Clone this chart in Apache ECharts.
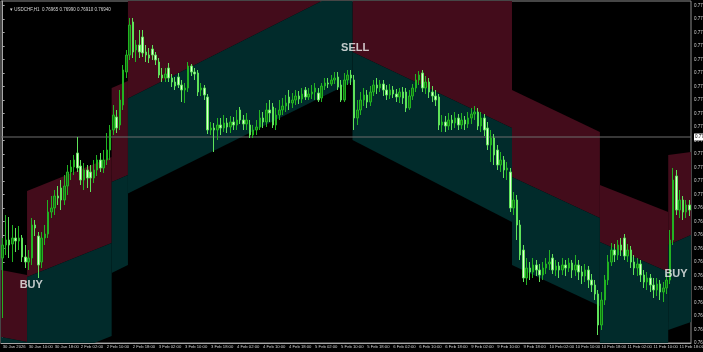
<!DOCTYPE html>
<html><head><meta charset="utf-8">
<script src="https://cdn.jsdelivr.net/npm/echarts@6/dist/echarts.min.js"></script>
<style>html,body{margin:0;padding:0;background:#000;}#c{width:703px;height:352px;}</style>
</head><body><div id="c"></div>
<script>
// ---- data ----
const symbolTitle = '\u25BE USDCHF,H1  0.76965 0.76990 0.76910 0.76940';
const sessions = [['30 Jan',2,23],['2 Feb',0,23],['3 Feb',0,23],['4 Feb',0,23],['5 Feb',0,23],['6 Feb',0,23],['9 Feb',0,23],['10 Feb',0,23],['11 Feb',0,21]];
const tickLabels = ['30 Jan 2026','30 Jan 10:00','30 Jan 18:00','2 Feb 02:00','2 Feb 10:00','2 Feb 18:00','3 Feb 02:00','3 Feb 10:00','3 Feb 18:00','4 Feb 02:00','4 Feb 10:00','4 Feb 18:00','5 Feb 02:00','5 Feb 10:00','5 Feb 18:00','6 Feb 02:00','6 Feb 10:00','6 Feb 18:00','9 Feb 02:00','9 Feb 10:00','9 Feb 18:00','10 Feb 02:00','10 Feb 10:00','10 Feb 18:00','11 Feb 02:00','11 Feb 10:00','11 Feb 18:00'];
// [open, close, low, high]
const ohlc = [
[0.76700,0.76765,0.76400,0.76800],[0.76765,0.76790,0.76715,0.76915],[0.76790,0.76765,0.76700,0.76905],[0.76770,0.76800,0.76680,0.76865],
[0.76800,0.76785,0.76730,0.76850],[0.76785,0.76800,0.76740,0.76860],[0.76800,0.76705,0.76680,0.76815],[0.76705,0.76680,0.76650,0.76765],
[0.76680,0.76700,0.76640,0.76740],[0.76700,0.76865,0.76665,0.76900],[0.76865,0.76850,0.76810,0.76890],[0.76810,0.76665,0.76600,0.76830],
[0.76680,0.76800,0.76650,0.76830],[0.76800,0.76820,0.76765,0.76865],[0.76820,0.76930,0.76800,0.76990],[0.76930,0.76950,0.76900,0.77010],
[0.76950,0.77010,0.76915,0.77040],[0.77010,0.77000,0.76965,0.77060],[0.77050,0.76990,0.76940,0.77090],[0.76990,0.77060,0.76965,0.77115],
[0.77060,0.77130,0.77015,0.77165],[0.77130,0.77155,0.77090,0.77190],[0.77155,0.77190,0.77115,0.77215],[0.77225,0.77150,0.77130,0.77305],
[0.77160,0.77090,0.77065,0.77190],[0.77090,0.77140,0.77040,0.77175],[0.77140,0.77100,0.77050,0.77165],[0.77130,0.77100,0.77030,0.77165],
[0.77100,0.77140,0.77075,0.77190],[0.77140,0.77190,0.77110,0.77215],[0.77190,0.77150,0.77130,0.77225],[0.77150,0.77190,0.77125,0.77240],
[0.77190,0.77240,0.77165,0.77325],[0.77240,0.77340,0.77190,0.77365],[0.77340,0.77415,0.77315,0.77465],[0.77405,0.77350,0.77325,0.77440],
[0.77365,0.77490,0.77340,0.77540],[0.77465,0.77640,0.77440,0.77665],[0.77630,0.77715,0.77600,0.77740],[0.77715,0.77865,0.77690,0.77900],
[0.77880,0.77730,0.77700,0.77900],[0.77740,0.77765,0.77680,0.77790],[0.77765,0.77730,0.77700,0.77840],[0.77805,0.77725,0.77705,0.77840],
[0.77730,0.77715,0.77680,0.77765],[0.77715,0.77700,0.77675,0.77750],[0.77745,0.77715,0.77690,0.77765],[0.77715,0.77690,0.77665,0.77730],
[0.77680,0.77615,0.77600,0.77700],[0.77615,0.77600,0.77580,0.77650],[0.77600,0.77620,0.77580,0.77650],[0.77650,0.77600,0.77580,0.77675],
[0.77600,0.77580,0.77555,0.77620],[0.77580,0.77560,0.77540,0.77605],[0.77605,0.77565,0.77550,0.77625],[0.77565,0.77540,0.77480,0.77590],
[0.77540,0.77550,0.77475,0.77575],[0.77550,0.77660,0.77530,0.77680],[0.77660,0.77630,0.77610,0.77670],[0.77630,0.77620,0.77590,0.77650],
[0.77625,0.77530,0.77510,0.77640],[0.77540,0.77550,0.77510,0.77575],[0.77550,0.77515,0.77490,0.77565],[0.77505,0.77340,0.77320,0.77520],
[0.77340,0.77350,0.77315,0.77380],[0.77350,0.77340,0.77230,0.77375],[0.77340,0.77365,0.77290,0.77400],[0.77365,0.77350,0.77315,0.77400],
[0.77350,0.77375,0.77330,0.77415],[0.77375,0.77355,0.77325,0.77400],[0.77355,0.77380,0.77325,0.77410],[0.77380,0.77365,0.77340,0.77405],
[0.77365,0.77390,0.77340,0.77440],[0.77440,0.77390,0.77370,0.77455],[0.77390,0.77370,0.77340,0.77415],[0.77370,0.77390,0.77340,0.77425],
[0.77365,0.77315,0.77300,0.77390],[0.77315,0.77340,0.77300,0.77365],[0.77340,0.77355,0.77315,0.77390],[0.77355,0.77400,0.77340,0.77440],
[0.77400,0.77380,0.77350,0.77430],[0.77380,0.77440,0.77355,0.77475],[0.77440,0.77425,0.77380,0.77490],[0.77455,0.77365,0.77350,0.77475],
[0.77365,0.77415,0.77340,0.77450],[0.77415,0.77440,0.77390,0.77490],[0.77440,0.77460,0.77415,0.77500],[0.77460,0.77475,0.77430,0.77515],
[0.77505,0.77475,0.77440,0.77540],[0.77475,0.77490,0.77450,0.77525],[0.77490,0.77510,0.77465,0.77540],[0.77510,0.77495,0.77470,0.77535],
[0.77495,0.77520,0.77475,0.77550],[0.77540,0.77505,0.77490,0.77555],[0.77505,0.77520,0.77490,0.77550],[0.77520,0.77530,0.77495,0.77565],
[0.77530,0.77550,0.77490,0.77575],[0.77525,0.77490,0.77480,0.77550],[0.77500,0.77560,0.77480,0.77575],[0.77560,0.77575,0.77540,0.77600],
[0.77575,0.77570,0.77550,0.77600],[0.77570,0.77590,0.77560,0.77615],[0.77590,0.77600,0.77570,0.77630],[0.77605,0.77555,0.77540,0.77630],
[0.77565,0.77490,0.77480,0.77590],[0.77490,0.77590,0.77480,0.77625],[0.77590,0.77615,0.77565,0.77640],[0.77615,0.77600,0.77565,0.77640],
[0.77590,0.77400,0.77340,0.77615],[0.77400,0.77440,0.77365,0.77490],[0.77440,0.77490,0.77415,0.77530],[0.77490,0.77515,0.77460,0.77550],
[0.77515,0.77480,0.77450,0.77540],[0.77480,0.77530,0.77460,0.77560],[0.77530,0.77565,0.77510,0.77590],[0.77565,0.77550,0.77520,0.77600],
[0.77550,0.77570,0.77530,0.77590],[0.77570,0.77540,0.77510,0.77590],[0.77540,0.77515,0.77490,0.77565],[0.77515,0.77540,0.77495,0.77570],
[0.77540,0.77520,0.77500,0.77560],[0.77520,0.77505,0.77480,0.77545],[0.77505,0.77530,0.77475,0.77550],[0.77530,0.77500,0.77470,0.77555],
[0.77530,0.77450,0.77430,0.77550],[0.77450,0.77510,0.77440,0.77540],[0.77510,0.77550,0.77490,0.77570],[0.77550,0.77590,0.77530,0.77620],
[0.77590,0.77615,0.77565,0.77635],[0.77625,0.77550,0.77530,0.77640],[0.77550,0.77580,0.77520,0.77610],[0.77580,0.77530,0.77500,0.77600],
[0.77530,0.77510,0.77480,0.77560],[0.77510,0.77490,0.77460,0.77540],[0.77505,0.77365,0.77340,0.77520],[0.77365,0.77380,0.77330,0.77415],
[0.77380,0.77360,0.77330,0.77410],[0.77360,0.77390,0.77340,0.77425],[0.77390,0.77375,0.77340,0.77415],[0.77375,0.77400,0.77350,0.77430],
[0.77400,0.77365,0.77340,0.77420],[0.77365,0.77390,0.77345,0.77425],[0.77390,0.77370,0.77340,0.77410],[0.77370,0.77400,0.77350,0.77430],
[0.77400,0.77420,0.77370,0.77450],[0.77420,0.77430,0.77390,0.77460],[0.77430,0.77360,0.77340,0.77450],[0.77360,0.77400,0.77330,0.77430],
[0.77400,0.77340,0.77310,0.77420],[0.77350,0.77265,0.77240,0.77380],[0.77265,0.77300,0.77180,0.77340],[0.77300,0.77215,0.77165,0.77320],
[0.77240,0.77165,0.77140,0.77265],[0.77165,0.77190,0.77130,0.77230],[0.77190,0.77140,0.77100,0.77210],[0.77140,0.77150,0.77090,0.77180],
[0.77130,0.76950,0.76930,0.77150],[0.76950,0.76990,0.76915,0.77030],[0.76990,0.76865,0.76790,0.77015],[0.76865,0.76715,0.76690,0.76890],
[0.76740,0.76600,0.76580,0.76765],[0.76600,0.76650,0.76565,0.76700],[0.76650,0.76630,0.76590,0.76680],[0.76630,0.76665,0.76600,0.76700],
[0.76665,0.76640,0.76610,0.76690],[0.76640,0.76615,0.76580,0.76670],[0.76615,0.76650,0.76590,0.76680],[0.76650,0.76670,0.76620,0.76700],
[0.76670,0.76680,0.76640,0.76740],[0.76700,0.76640,0.76620,0.76720],[0.76640,0.76660,0.76610,0.76690],[0.76660,0.76640,0.76600,0.76680],
[0.76640,0.76665,0.76615,0.76700],[0.76665,0.76650,0.76610,0.76690],[0.76650,0.76675,0.76630,0.76700],[0.76675,0.76640,0.76600,0.76690],
[0.76640,0.76665,0.76610,0.76715],[0.76665,0.76630,0.76590,0.76690],[0.76630,0.76610,0.76570,0.76660],[0.76610,0.76640,0.76580,0.76670],
[0.76640,0.76590,0.76550,0.76660],[0.76590,0.76565,0.76530,0.76620],[0.76565,0.76520,0.76490,0.76590],[0.76520,0.76365,0.76315,0.76540],
[0.76365,0.76490,0.76340,0.76530],[0.76490,0.76590,0.76465,0.76615],[0.76590,0.76680,0.76565,0.76715],[0.76680,0.76740,0.76660,0.76775],
[0.76740,0.76715,0.76680,0.76770],[0.76715,0.76765,0.76690,0.76790],[0.76765,0.76740,0.76710,0.76800],[0.76800,0.76710,0.76690,0.76820],
[0.76710,0.76740,0.76680,0.76770],[0.76740,0.76680,0.76650,0.76760],[0.76680,0.76650,0.76615,0.76715],[0.76650,0.76670,0.76610,0.76700],
[0.76670,0.76615,0.76580,0.76690],[0.76615,0.76580,0.76550,0.76640],[0.76580,0.76600,0.76540,0.76630],[0.76600,0.76565,0.76530,0.76620],
[0.76565,0.76540,0.76500,0.76600],[0.76540,0.76570,0.76510,0.76600],[0.76570,0.76530,0.76490,0.76590],[0.76530,0.76550,0.76480,0.76580],
[0.76550,0.76590,0.76520,0.76620],[0.76590,0.76790,0.76570,0.76840],[0.76790,0.77090,0.76765,0.77150],[0.77110,0.76940,0.76915,0.77140],
[0.76940,0.76990,0.76900,0.77040],[0.76990,0.76930,0.76890,0.77010],[0.76930,0.76965,0.76900,0.76990],[0.76965,0.76940,0.76910,0.76990]
];
// channel segments: [fromBar, toBar, upperStart, upperEnd, lowerStart, lowerEnd]
const redBands = [
[-0.5,7.5,0.76640,0.76615,0.76305,0.76280],
[7.5,33.5,0.77035,0.77205,0.76605,0.76775],
[33.5,38.5,0.77550,0.77585,0.77080,0.77115],
[38.5,107.5,0.78200,0.78200,0.77498,0.78062],
[107.5,156.5,0.78200,0.78200,0.77730,0.77350],
[156.5,183.5,0.77540,0.77330,0.77105,0.76900],
[183.5,204.5,0.77065,0.76930,0.76780,0.76630],
[204.5,211.5,0.77215,0.77230,0.76765,0.76815]
];
const tealBands = [
[-0.5,7.5,0.76305,0.76280,0.76000,0.76000],
[7.5,33.5,0.76605,0.76775,0.76140,0.76310],
[33.5,38.5,0.77080,0.77115,0.76625,0.76665],
[38.5,107.5,0.77498,0.78062,0.77023,0.77581],
[107.5,156.5,0.77730,0.77350,0.77290,0.76880],
[156.5,183.5,0.77105,0.76900,0.76665,0.76460],
[183.5,204.5,0.76780,0.76630,0.76050,0.75900],
[204.5,211.5,0.76765,0.76815,0.76340,0.76380]
];
const signals = [[8.8,0.76565,'BUY'],[108.3,0.77750,'SELL'],[206.9,0.76620,'BUY']];
const priceLine = 0.77305;
const yMin = 0.76275, yMax = 0.77985, yStep = 0.000675;

// ---- build ----
const categories = [];
sessions.forEach(s => { for (let h = s[1]; h <= s[2]; h++) categories.push(s[0] + ' ' + String(h).padStart(2,'0') + ':00'); });

function bandRenderer(fill) {
  return function (params, api) {
    const a = api.coord([api.value(0), api.value(2)]);
    const b = api.coord([api.value(1), api.value(3)]);
    const c = api.coord([api.value(1), api.value(5)]);
    const d = api.coord([api.value(0), api.value(4)]);
    return { type: 'polygon', shape: { points: [a, b, c, d] }, style: { fill: fill, stroke: null } };
  };
}
const font = 'Liberation Sans';
const chart = echarts.init(document.getElementById('c'), null, { renderer: 'canvas' });
chart.setOption({
  animation: false,
  backgroundColor: '#000',
  title: { text: symbolTitle, left: 5, top: 2, textStyle: { fontSize: 4.5, color: '#d8d8d8', fontWeight: 'normal', fontFamily: font } },
  grid: { left: 1, right: 12, top: 1, bottom: 9, show: true, borderColor: '#8c8c8c', borderWidth: 1, outerBoundsMode: 'none', containLabel: false },
  xAxis: [{
    type: 'category', data: categories, boundaryGap: true,
    axisLine: { lineStyle: { color: '#a8a8a8' } },
    axisTick: { alignWithLabel: true, length: 2, interval: i => i % 8 === 0, lineStyle: { color: '#a8a8a8' } },
    axisLabel: { interval: i => i % 8 === 0, formatter: (v, i) => tickLabels[i / 8] || '', align: 'left', fontSize: 4.2, color: '#d0d0d0', margin: 2, fontFamily: font, hideOverlap: false, showMinLabel: true },
    splitLine: { show: false }
  }, {
    type: 'value', min: -0.5, max: 211.5, show: false
  }],
  yAxis: {
    type: 'value', position: 'right', min: yMin, max: yMax, interval: yStep,
    axisLine: { show: true, lineStyle: { color: '#a8a8a8' } },
    axisTick: { show: true, length: 2, lineStyle: { color: '#a8a8a8' } },
    axisLabel: { formatter: v => v.toFixed(5), fontSize: 4.5, color: '#d0d0d0', margin: 3, showMaxLabel: false, fontFamily: font },
    splitLine: { show: false }
  },
  series: [
    { type: 'custom', xAxisIndex: 1, clip: true, z: 1, renderItem: bandRenderer('#430c1b'), data: redBands, silent: true },
    { type: 'custom', xAxisIndex: 1, clip: true, z: 1, renderItem: bandRenderer('#012b2b'), data: tealBands, silent: true },
    {
      type: 'line', xAxisIndex: 1, z: 2, symbol: 'none', silent: true,
      data: [[-0.5, priceLine], [211.5, priceLine]],
      lineStyle: { color: '#6e6e6e', width: 1 },
      endLabel: { show: true, formatter: () => priceLine.toFixed(5), backgroundColor: '#ffffff', color: '#000', fontSize: 4.5, padding: [1, 1], distance: 3, fontFamily: font }
    },
    {
      type: 'candlestick', xAxisIndex: 0, z: 3, data: ohlc, barWidth: 2,
      itemStyle: { color: '#0f6e10', color0: '#e4ffd8', borderColor: '#22b322', borderColor0: '#5fe35a', borderWidth: 1 }
    },
    {
      type: 'scatter', xAxisIndex: 1, z: 5, symbolSize: 1, itemStyle: { color: 'rgba(0,0,0,0)' },
      data: signals,
      label: { show: true, position: 'inside', formatter: p => p.value[2], color: '#f2f2f2', fontWeight: 'bold', fontSize: 11, fontFamily: font }
    }
  ]
});
</script></body></html>
